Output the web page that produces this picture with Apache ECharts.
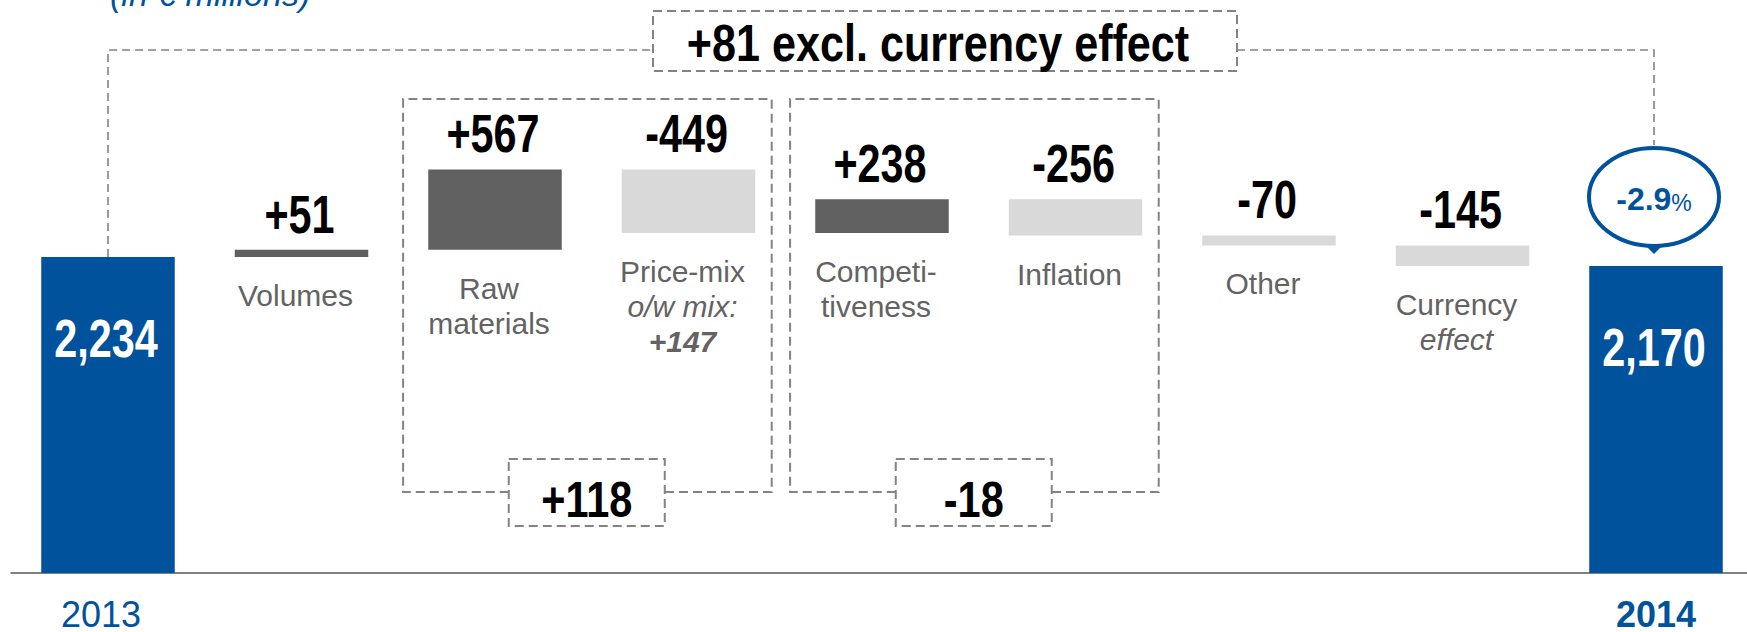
<!DOCTYPE html>
<html>
<head>
<meta charset="utf-8">
<title>Bridge 2013 - 2014</title>
<script src="https://cdn.jsdelivr.net/npm/echarts@6.0.0/dist/echarts.min.js"></script>
<style>
  html, body { margin: 0; padding: 0; background: #fff; }
  #chart { width: 1747px; height: 632px; }
</style>
</head>
<body>
<div id="chart"></div>
<script>
  // values (in € millions)
  const categories = ['2013', 'Volumes', 'Raw materials', 'Price-mix', 'Competitiveness', 'Inflation', 'Other', 'Currency effect', '2014'];
  const values = [2234, 51, 567, -449, 238, -256, -70, -145, 2170];
  const isTotal = [true, false, false, false, false, false, false, false, true];
  const mixPart = 147;           // "o/w mix" inside price-mix
  const groups = [[2, 3], [4, 5]]; // dashed sub-total boxes
  const currencyIndex = 7;

  // text shown under each bar
  const barLabels = ['', 'Volumes', 'Raw\nmaterials', 'Price-mix\n{i|o/w mix:}\n{bi|+' + mixPart + '}',
    'Competi-\ntiveness', 'Inflation', 'Other', 'Currency\n{i|effect}', ''];

  const BLUE = '#00529C', DARK = '#606060', LIGHT = '#D9D9D9', LINE = '#838383', GREY = '#636363';
  const FONT = '"Liberation Sans", Arial, Helvetica, sans-serif';

  const signed = v => (v > 0 ? '+' : '') + v;

  // running total -> [index, low, high, value]
  const bars = [];
  let run = 0;
  values.forEach((v, i) => {
    if (isTotal[i]) {
      bars.push([i, 0, v, v]);
      run = v;
    } else {
      bars.push([i, Math.min(run, run + v), Math.max(run, run + v), v]);
      run += v;
    }
  });

  const dashed = {stroke: LINE, lineWidth: 2, lineDash: [9, 5], fill: 'none'};
  const thinDashed = {stroke: LINE, lineWidth: 1.6, lineDash: [8, 5], fill: 'none'};

  function renderBar(params, api) {
    const i = api.value(0), v = api.value(3);
    const hi = api.coord([i, api.value(2)]);
    const lo = api.coord([i, api.value(1)]);
    const w = api.size([1, 0])[0] * 0.69;
    const total = isTotal[i];
    const children = [{
      type: 'rect',
      shape: {x: hi[0] - w / 2, y: hi[1], width: w, height: lo[1] - hi[1]},
      style: {fill: total ? BLUE : (v > 0 ? DARK : LIGHT)}
    }, {
      type: 'text',
      x: hi[0] - 2,
      y: total ? hi[1] + 55 : hi[1] - 9,
      scaleX: 0.78,
      style: {
        text: total ? v.toLocaleString('en-US') : signed(v),
        align: 'center',
        verticalAlign: total ? 'top' : 'bottom',
        font: 'bold 53px ' + FONT,
        lineHeight: 53,
        fill: total ? '#fff' : '#000'
      }
    }];
    if (barLabels[i]) {
      children.push({
        type: 'text',
        x: hi[0] - 6,
        y: lo[1] + 21,
        style: {
          text: barLabels[i],
          align: 'center',
          verticalAlign: 'top',
          fontSize: 30,
          fontFamily: FONT,
          lineHeight: 35,
          fill: GREY,
          rich: {
            i: {fontSize: 30, fontFamily: FONT, fontStyle: 'italic', lineHeight: 35, fill: GREY},
            bi: {fontSize: 30, fontFamily: FONT, fontStyle: 'italic', fontWeight: 'bold', lineHeight: 35, fill: GREY}
          }
        }
      });
    }
    return {type: 'group', children: children};
  }

  function renderGroup(params, api) {
    const a = api.value(0), b = api.value(1);
    const cs = params.coordSys;
    const slot = api.size([1, 0])[0];
    const xa = api.coord([a, 0])[0], xb = api.coord([b, 0])[0];
    const top = cs.y + 92, bottom = cs.y + cs.height - 81;
    const left = xa - 0.475 * slot, right = xb + 0.43 * slot;
    const mid = (xa + xb) / 2 - 5, half = 78;
    let sum = 0;
    for (let k = a; k <= b; k++) sum += values[k];
    return {
      type: 'group',
      children: [
        {type: 'polyline', shape: {points: [[mid - half, bottom], [left, bottom], [left, top], [right, top], [right, bottom], [mid + half, bottom]]}, style: dashed},
        {type: 'rect', shape: {x: mid - half, y: bottom - 33, width: half * 2, height: 67}, style: Object.assign({}, dashed, {fill: '#fff'})},
        {type: 'text', x: mid, y: bottom + 33, scaleX: 0.83,
          style: {text: signed(sum), align: 'center', verticalAlign: 'bottom', font: 'bold 50px ' + FONT, lineHeight: 50, fill: '#000'}}
      ]
    };
  }

  function renderBracket(params, api) {
    const cs = params.coordSys;
    const n = values.length;
    const first = api.coord([0, values[0]]);
    const last = api.coord([n - 1, values[n - 1]]);
    const lineY = cs.y + 43;
    const boxCx = api.coord([4, 0])[0] + 63, boxHalf = 292;
    const cx = last[0] - 2, cy = last[1] - 69, rx = 65, ry = 49;
    const excl = values[n - 1] - values[0] - values[currencyIndex];
    const pct = ((values[n - 1] - values[0]) / values[0] * 100).toFixed(1);
    const ellipse = 'M' + (cx - rx) + ' ' + cy +
      ' A' + rx + ' ' + ry + ' 0 1 0 ' + (cx + rx) + ' ' + cy +
      ' A' + rx + ' ' + ry + ' 0 1 0 ' + (cx - rx) + ' ' + cy + ' Z';
    return {
      type: 'group',
      children: [
        {type: 'polyline', shape: {points: [[first[0], first[1]], [first[0], lineY], [boxCx - boxHalf, lineY]]}, style: thinDashed},
        {type: 'polyline', shape: {points: [[boxCx + boxHalf, lineY], [cx, lineY], [cx, cy - ry - 3]]}, style: thinDashed},
        {type: 'rect', shape: {x: boxCx - boxHalf, y: cs.y + 4, width: boxHalf * 2, height: 60}, style: Object.assign({}, dashed, {fill: '#fff'})},
        {type: 'text', x: boxCx - 7, y: cs.y + 62, scaleX: 0.83,
          style: {text: signed(excl) + ' excl. currency effect', align: 'center', verticalAlign: 'bottom', font: 'bold 52px ' + FONT, lineHeight: 52, fill: '#000'}},
        {type: 'path', shape: {pathData: ellipse}, style: {fill: '#fff', stroke: BLUE, lineWidth: 4}},
        {type: 'polygon', shape: {points: [[cx - 9, cy + ry - 1], [cx + 9, cy + ry - 1], [cx, cy + ry + 8]]}, style: {fill: BLUE}},
        {type: 'text', x: cx, y: cy + 2,
          style: {
            text: '{n|' + pct + '}{p|%}', align: 'center', verticalAlign: 'middle',
            rich: {
              n: {fontSize: 32, fontFamily: FONT, fontWeight: 'bold', lineHeight: 32, fill: BLUE, verticalAlign: 'bottom'},
              p: {fontSize: 23, fontFamily: FONT, lineHeight: 23, fill: BLUE, verticalAlign: 'bottom'}
            }
          }}
      ]
    };
  }

  const chart = echarts.init(document.getElementById('chart'), null, {renderer: 'svg'});
  chart.setOption({
    animation: false,
    backgroundColor: '#fff',
    grid: {left: 11.25, top: 7, width: 1741.5, height: 566, outerBoundsMode: 'none', containLabel: false},
    xAxis: {
      type: 'category',
      data: categories,
      axisTick: {show: false},
      axisLine: {lineStyle: {color: '#808080', width: 2}},
      axisLabel: {
        interval: 0,
        margin: 26,
        formatter: (val, idx) => idx === 0 ? '{y1|' + val + '}' : (idx === categories.length - 1 ? '{y2|' + val + '}' : ''),
        rich: {
          y1: {color: BLUE, fontSize: 36, fontFamily: FONT, lineHeight: 30, padding: [0, 14, 0, 0]},
          y2: {color: BLUE, fontSize: 36, fontFamily: FONT, fontWeight: 'bold', lineHeight: 30}
        }
      }
    },
    yAxis: {type: 'value', min: 0, max: 4000, show: false, splitLine: {show: false}},
    graphic: [{
      type: 'text', x: 110, y: 11,
      style: {text: '(in € millions)', font: 'italic 34px ' + FONT, fill: BLUE, verticalAlign: 'bottom', lineHeight: 34}
    }],
    series: [
      {type: 'custom', name: 'bridge', renderItem: renderBar, encode: {x: 0, y: [1, 2]}, data: bars, z: 3},
      {type: 'custom', name: 'groups', renderItem: renderGroup, encode: {x: 0, y: 1}, data: groups, z: 2},
      {type: 'custom', name: 'bracket', renderItem: renderBracket, encode: {x: 0, y: 1}, data: [[0, 0]], z: 2}
    ]
  });
</script>
</body>
</html>
